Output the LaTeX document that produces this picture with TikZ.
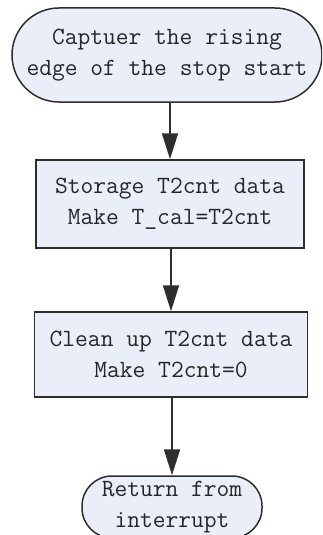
\documentclass[tikz,border=0pt]{standalone}
\usetikzlibrary{arrows.meta}
\definecolor{boxfill}{HTML}{E9EEF8}
\definecolor{lineclr}{HTML}{2E2E2E}
\begin{document}
\begin{tikzpicture}[x=1pt,y=1pt,
  every node/.style={draw=lineclr, line width=1.5pt, fill=boxfill, text=black!85,
    align=center, inner sep=0pt,
    font=\ttfamily\fontsize{24.8}{31.5}\selectfont},
  term/.style={rounded corners=#1},
  procbox/.style={},
  flow/.style={draw=lineclr, line width=1.7pt, -{Triangle[length=26pt,width=16pt]}}]
\useasboundingbox (0,0) rectangle (322,-535);
\clip (0,0) rectangle (322,-535);
\node[term=47pt, minimum width=310pt, minimum height=94pt] (start) at (167,-55)
  {Captuer the rising\\edge of the stop start};
\node[procbox, minimum width=268pt, minimum height=88pt] (store) at (170,-204)
  {Storage T2cnt data\\Make T\_cal=T2cnt};
\node[procbox, minimum width=273pt, minimum height=85pt] (clean) at (171,-354.5)
  {Clean up T2cnt data\\Make T2cnt=0};
\node[term=30pt, minimum width=180pt, minimum height=62pt] (ret) at (172,-507)
  {Return from\\interrupt};
\draw[flow] (store.north |- start.south) -- (store.north);
\draw[flow] (clean.north |- store.south) -- (clean.north);
\draw[flow] (ret.north |- clean.south) -- (ret.north);
\end{tikzpicture}
\end{document}
